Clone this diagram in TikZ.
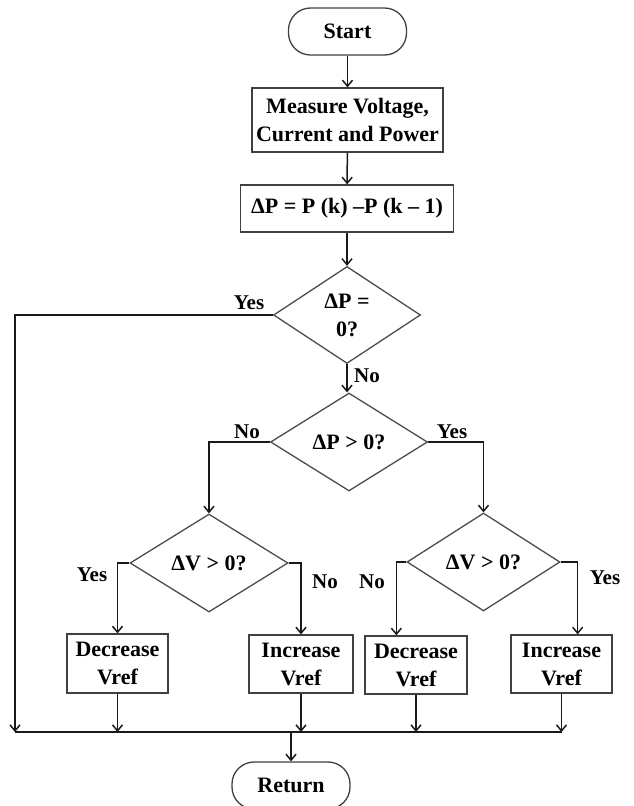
\documentclass[tikz,border=0pt]{standalone}
\usepackage{fontspec}
\setmainfont{Liberation Serif}
\usetikzlibrary{arrows.meta,shapes.geometric}

\begin{document}
\begin{tikzpicture}[x=1pt,y=-1pt,
  every node/.style={font=\fontsize{22}{28}\selectfont\bfseries},
  term/.style={draw=black!75, line width=1.3pt, rounded corners=22pt, minimum width=118pt, minimum height=47pt, inner sep=0pt},
  proc/.style={draw=black!75, line width=1.3pt, align=center, inner sep=0pt},
  decide/.style={draw=black!70, line width=1.3pt, diamond, align=center, inner sep=0pt},
  flow/.style={draw=black!90, line width=1.5pt, -{Straight Barb[length=6pt,width=10pt]}},
  link/.style={draw=black!90, line width=1.5pt},
  lbl/.style={font=\fontsize{21}{24}\selectfont\bfseries}]
\useasboundingbox (0,0) rectangle (633,806);
% boxes
\node[term] (start) at (347.5,31.5) {Start};
\node[proc, minimum width=191pt, minimum height=64pt] (meas) at (347.5,120) {Measure Voltage,\\Current and Power};
\node[proc, minimum width=213pt, minimum height=47pt] (dp) at (347,208.5) {ΔP = P (k) –P (k – 1)};
\node[decide, minimum width=147pt, minimum height=97pt, label={[align=center]center:ΔP =\\0?}] (zero) at (347,315) {};
\node[decide, minimum width=157pt, minimum height=98pt] (dpos) at (349,442) {ΔP > 0?};
\node[decide, minimum width=158pt, minimum height=98pt] (dvl) at (209,563) {ΔV > 0?};
\node[decide, minimum width=153pt, minimum height=98pt] (dvr) at (483.5,562) {ΔV > 0?};
\node[proc, minimum width=101pt, minimum height=59pt] (decl) at (117.5,663.5) {Decrease\\Vref};
\node[proc, minimum width=104pt, minimum height=58pt] (incl) at (301,664) {Increase\\Vref};
\node[proc, minimum width=102pt, minimum height=58pt] (decr) at (416,665) {Decrease\\Vref};
\node[proc, minimum width=101pt, minimum height=58pt] (incr) at (561.5,664) {Increase\\Vref};
\node[term] (ret) at (291,785.5) {Return};
% helper points
\coordinate (busl) at (15,732);
\coordinate (busr) at (incr.south |- busl);
\coordinate (dvrw) at ([xshift=-10pt]dvr.west);
\coordinate (dvre) at ([xshift=17pt]dvr.east);
% connectors
\draw[flow] (start) -- (meas);
\draw[flow] (meas) -- (dp);
\draw[flow] (dp) -- (zero);
\draw[flow] (zero.west) -| (busl);
\draw[flow] (zero.south) -- (zero.south |- dpos.north);
\draw[flow] (dpos.west) -| (dvl.north);
\draw[flow] (dpos.east) -| (dvr.north);
\draw[flow] (dvl.west) -| (decl.north);
\draw[flow] (dvl.east) -| (incl.north);
\draw[flow] (dvr.west) -- (dvrw) -- (dvrw |- decr.north);
\draw[flow] (dvr.east) -- (dvre) -- (dvre |- incr.north);
\foreach \b in {decl,incl,decr,incr}
  \draw[flow] (\b.south) -- (\b.south |- busl);
\draw[link] (busl) -- (busr);
\draw[flow] (ret.north |- busl) -- (ret.north);
% labels
\node[lbl] (yzero) at (249,303) {Yes};
\node[lbl] (nzero) at (367,376) {No};
\node[lbl] (npos) at (247,432) {No};
\node[lbl] (ypos) at (452,432) {Yes};
\node[lbl] (yvl) at (92,575) {Yes};
\node[lbl] (nvl) at (325,582) {No};
\node[lbl] (nvr) at (372,582) {No};
\node[lbl] (yvr) at (605,578) {Yes};
\end{tikzpicture}
\end{document}
